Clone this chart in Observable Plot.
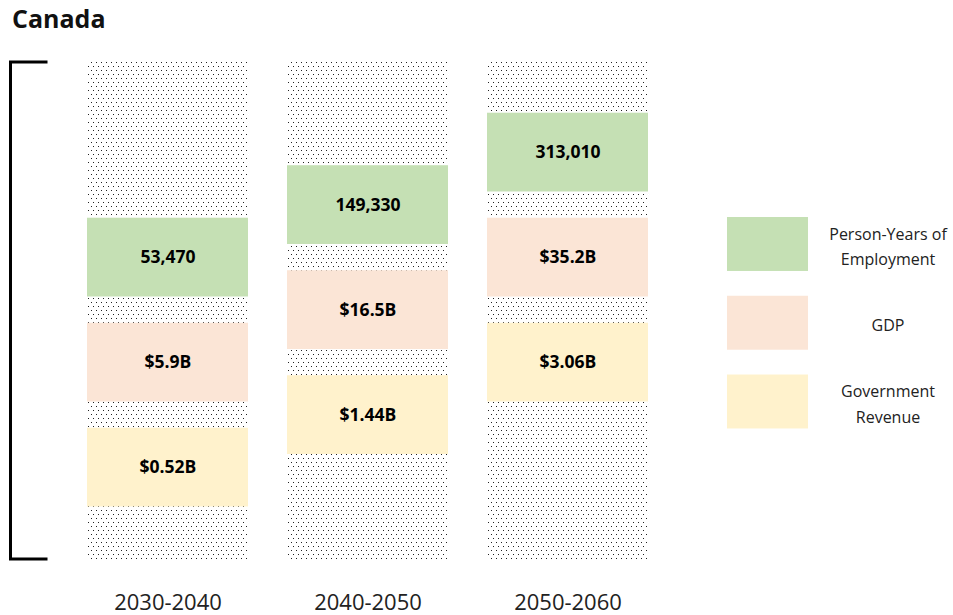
<!DOCTYPE html>
<html>
<head>
<meta charset="utf-8">
<script src="https://cdn.jsdelivr.net/npm/d3@7"></script>
<script src="https://cdn.jsdelivr.net/npm/@observablehq/plot@0.6"></script>
<style>
  html, body { margin: 0; padding: 0; background: #fff; }
  body { width: 953px; height: 615px; position: relative; overflow: hidden; font-family: "Open Sans", sans-serif; }
  #title { position: absolute; left: 12px; top: 1px; font-size: 25px; font-weight: 700; color: #111; }
  #chart { position: absolute; left: 0; top: 45px; }
</style>
</head>
<body>
<div id="title">Canada</div>
<div id="chart"></div>
<script>
// ---- data ----
const periods = ["2030-2040", "2040-2050", "2050-2060"];
const seriesNames = ["Government Revenue", "GDP", "Person-Years of Employment"];
const revenueLabels = ["$0.52B", "$1.44B", "$3.06B"];
const gdpLabels = ["$5.9B", "$16.5B", "$35.2B"];
const employmentLabels = ["53,470", "149,330", "313,010"];
const legendLabels = ["Government\nRevenue", "GDP", "Person-Years of\nEmployment"];
const seriesColors = ["#FFF2CC", "#FBE5D6", "#C5E0B4"];

// ---- layout (schematic stacking: each period shifted half a slot up) ----
const yMax = 4.733;
const boxH = 0.75;
const labelsBySeries = [revenueLabels, gdpLabels, employmentLabels];
const rows = [];
periods.forEach((p, i) => {
  seriesNames.forEach((s, j) => {
    const y1 = 0.5 + 0.5 * i + j;
    rows.push({period: p, series: s, label: labelsBySeries[j][i], y1, y2: y1 + boxH});
  });
});
const legendRows = seriesNames.map((s, j) => ({series: s, text: legendLabels[j], y: 1.5 + 0.75 * j}));

const bracket = (index, scales, values, dimensions) => {
  const g = d3.create("svg:g");
  const pat = g.append("defs").append("pattern")
    .attr("id", "dots").attr("patternUnits", "userSpaceOnUse")
    .attr("width", 5).attr("height", 8);
  pat.append("rect").attr("width", 5).attr("height", 8).attr("fill", "#fff");
  pat.append("rect").attr("x", 1).attr("y", 1).attr("width", 1).attr("height", 1).attr("fill", "#222");
  pat.append("rect").attr("x", 3).attr("y", 5).attr("width", 1).attr("height", 1).attr("fill", "#222");
  const x0 = dimensions.marginLeft;
  const top = scales.y(yMax), bottom = scales.y(0);
  g.append("path")
    .attr("d", `M${x0 + 37},${top}H${x0}V${bottom}H${x0 + 37}`)
    .attr("fill", "none").attr("stroke", "#000").attr("stroke-width", 3);
  return g.node();
};

const chart = Plot.plot({
  width: 953,
  height: 570,
  marginLeft: 10.5,
  marginRight: 0,
  marginTop: 17,
  marginBottom: 56,
  style: {fontFamily: "Open Sans, sans-serif", background: "#fff"},
  x: {type: "band", domain: [...periods, "legend"], range: [86, 848.5], paddingInner: 0.197, paddingOuter: 0, axis: null, label: null},
  y: {domain: [0, yMax], axis: null},
  color: {domain: seriesNames, range: seriesColors},
  marks: [
    bracket,
    Plot.rectY(periods, {x: d => d, y1: 0, y2: yMax, fill: "url(#dots)"}),
    Plot.rectY(rows, {x: "period", y1: "y1", y2: "y2", fill: "series"}),
    Plot.text(rows, {x: "period", y: d => (d.y1 + d.y2) / 2, text: "label", fontWeight: 700, fontSize: 17.5, fill: "#000"}),
    Plot.rectY(legendRows, {x: () => "legend", y1: d => d.y - 0.257, y2: d => d.y + 0.257, fill: "series", insetLeft: 40, insetRight: 40}),
    Plot.text(legendRows, {x: () => "legend", y: "y", text: "text", dx: 120, fontSize: 16, lineHeight: 1.6, fill: "#222"}),
    Plot.axisX(periods, {tickSize: 0, tickPadding: 35, fontSize: 22, fill: "#222", label: null})
  ]
});
document.getElementById("chart").appendChild(chart);
</script>
</body>
</html>
